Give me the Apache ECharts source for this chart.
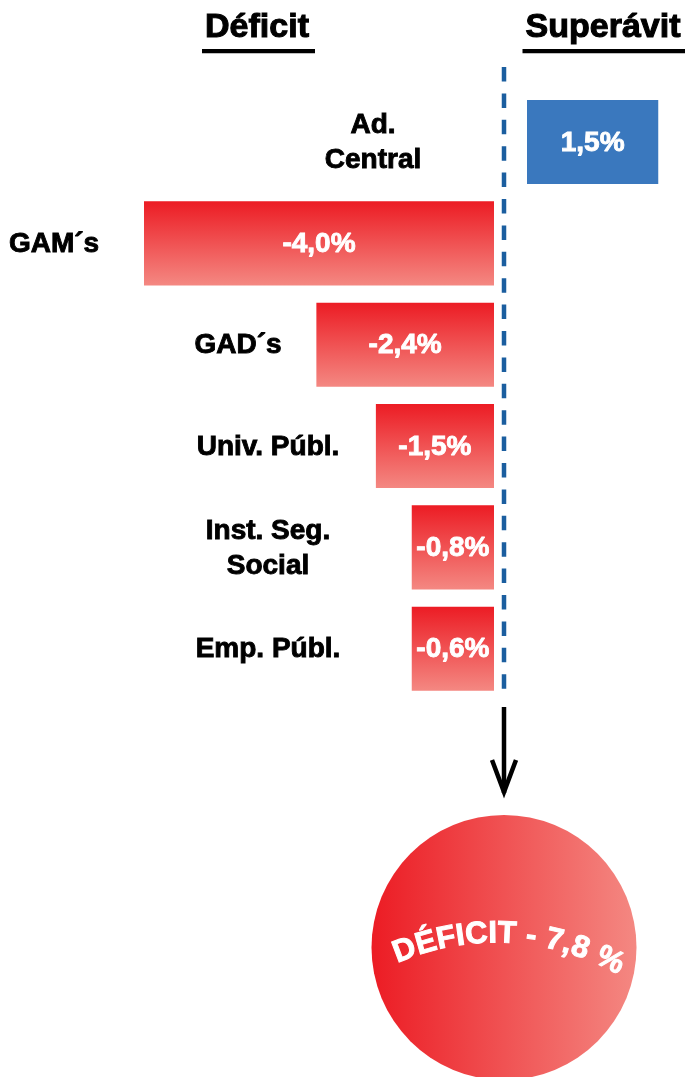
<!DOCTYPE html>
<html><head><meta charset="utf-8">
<script src="https://cdn.jsdelivr.net/npm/echarts@6/dist/echarts.min.js"></script>
<style>html,body{margin:0;padding:0;background:#fff}#c{width:685px;height:1077px}</style>
</head><body><div id="c"></div>
<script>
// ---- data ----
const categories = ['Ad.\nCentral', 'GAM´s', 'GAD´s', 'Univ. Públ.', 'Inst. Seg.\nSocial', 'Emp. Públ.'];
const labelValues = [1.5, -4.0, -2.4, -1.5, -0.8, -0.6];      // printed percentages
const barLengths  = [1.5, -4.0, -2.03, -1.35, -0.94, -0.94];  // bar extents as drawn in the reference
const totalDeficit = -7.8;
const headers = ['Déficit', 'Superávit'];

// ---- style ----
const FONT = '"Liberation Sans", Arial, Helvetica, sans-serif';
const catLabelCenterX = [373, 54, 238, 268, 268, 268];
const fmt = v => v.toFixed(1).replace('.', ',') + '%';

const chart = echarts.init(document.getElementById('c'), null, {renderer: 'canvas'});

function renderBar(params, api) {
  const i = params.dataIndex;
  const v = api.value(0);
  const idx = api.value(1);
  const p0 = api.coord([0, idx]);
  const p1 = api.coord([v, idx]);
  const band = api.size([0, 1])[1];
  const h = band * 0.83;
  const shift = v < 0 ? -10 : 23;
  const x = Math.min(p0[0], p1[0]) + shift;
  const w = Math.abs(p1[0] - p0[0]);
  const y = p0[1] - h / 2;
  const fill = v < 0
    ? new echarts.graphic.LinearGradient(0, 0, 0, 1, [
        {offset: 0, color: '#EC1C24'}, {offset: 1, color: '#F48882'}])
    : '#3A78BE';
  return {
    type: 'group',
    children: [
      {type: 'rect', shape: {x: x, y: y, width: w, height: h}, style: {fill: fill}},
      {type: 'text', x: x + w / 2, y: p0[1] + 1,
        style: {text: fmt(labelValues[i]), fill: '#fff', stroke: '#fff', lineWidth: 0.9,
          fontSize: 28, fontWeight: 'bold',
          fontFamily: FONT, align: 'center', verticalAlign: 'middle'}},
      {type: 'text', x: catLabelCenterX[i], y: p0[1] + 1,
        style: {text: categories[i], fill: '#000', stroke: '#000', lineWidth: 0.9,
          fontSize: 28, fontWeight: 'bold',
          fontFamily: FONT, align: 'center', verticalAlign: 'middle', lineHeight: 35}}
    ]
  };
}

chart.setOption({
  backgroundColor: '#fff',
  animation: false,
  grid: {left: 154, right: 6, top: 91.35, bottom: 377.65},
  xAxis: {type: 'value', min: -4, max: 2, show: false},
  yAxis: {type: 'category', data: categories, inverse: true, show: false},
  series: [{
    type: 'custom',
    renderItem: renderBar,
    data: barLengths.map((v, i) => [v, i]),
    encode: {x: 0, y: 1}
  }]
});

// ---- decorations relative to the zero line ----
const x0 = chart.convertToPixel({xAxisIndex: 0}, 0);
const g = [];
// headers
g.push({type: 'text', x: 257, y: 28, style: {text: headers[0], fill: '#000', stroke: '#000', lineWidth: 1.1, fontSize: 34, fontWeight: 'bold', fontFamily: FONT, align: 'center', verticalAlign: 'middle'}});
g.push({type: 'rect', shape: {x: 202, y: 49, width: 113, height: 4.3}, style: {fill: '#000'}});
g.push({type: 'text', x: 603, y: 28, style: {text: headers[1], fill: '#000', stroke: '#000', lineWidth: 1.1, fontSize: 34, fontWeight: 'bold', fontFamily: FONT, align: 'center', verticalAlign: 'middle'}});
g.push({type: 'rect', shape: {x: 522.5, y: 49, width: 163, height: 4.3}, style: {fill: '#000'}});
// dashed zero line
g.push({type: 'line', shape: {x1: x0, y1: 67, x2: x0, y2: 689},
  style: {stroke: '#1B5E9F', lineWidth: 4.5, lineDash: [14.5, 11.9]}});
// arrow
g.push({type: 'line', shape: {x1: x0, y1: 707, x2: x0, y2: 793}, style: {stroke: '#000', lineWidth: 4.5}});
g.push({type: 'polyline', shape: {points: [[x0 - 12, 760], [x0, 792], [x0 + 12, 760]]},
  style: {stroke: '#000', lineWidth: 4.5, lineJoin: 'miter', miterLimit: 10, fill: null}});
// circle
g.push({type: 'circle', shape: {cx: x0, cy: 947.5, r: 132.5},
  style: {fill: new echarts.graphic.LinearGradient(0, 0, 1, 0, [
    {offset: 0, color: '#EC1C24'}, {offset: 1, color: '#F48882'}])}});
// curved text
const circleText = 'DÉFICIT - ' + Math.abs(totalDeficit).toFixed(1).replace('.', ',') + ' %';
const ctx = document.createElement('canvas').getContext('2d');
ctx.font = 'bold 31px "Liberation Sans"';
const chars = Array.from(circleText);
const widths = chars.map(c => ctx.measureText(c).width);
const R = 245, acx = x0 - 8, acy = 1190;
const startAng = -23.5 * Math.PI / 180;
let s = 0;
chars.forEach((c, i) => {
  const ang = startAng + (s + widths[i] / 2) / R;
  s += widths[i];
  const rr = R + 11;
  g.push({type: 'text', x: acx + rr * Math.sin(ang), y: acy - rr * Math.cos(ang), rotation: -ang,
    style: {text: c, fill: '#fff', stroke: '#fff', lineWidth: 1, fontSize: 31, fontWeight: 'bold', fontFamily: FONT, align: 'center', verticalAlign: 'middle'}});
});
chart.setOption({graphic: g});
</script></body></html>
